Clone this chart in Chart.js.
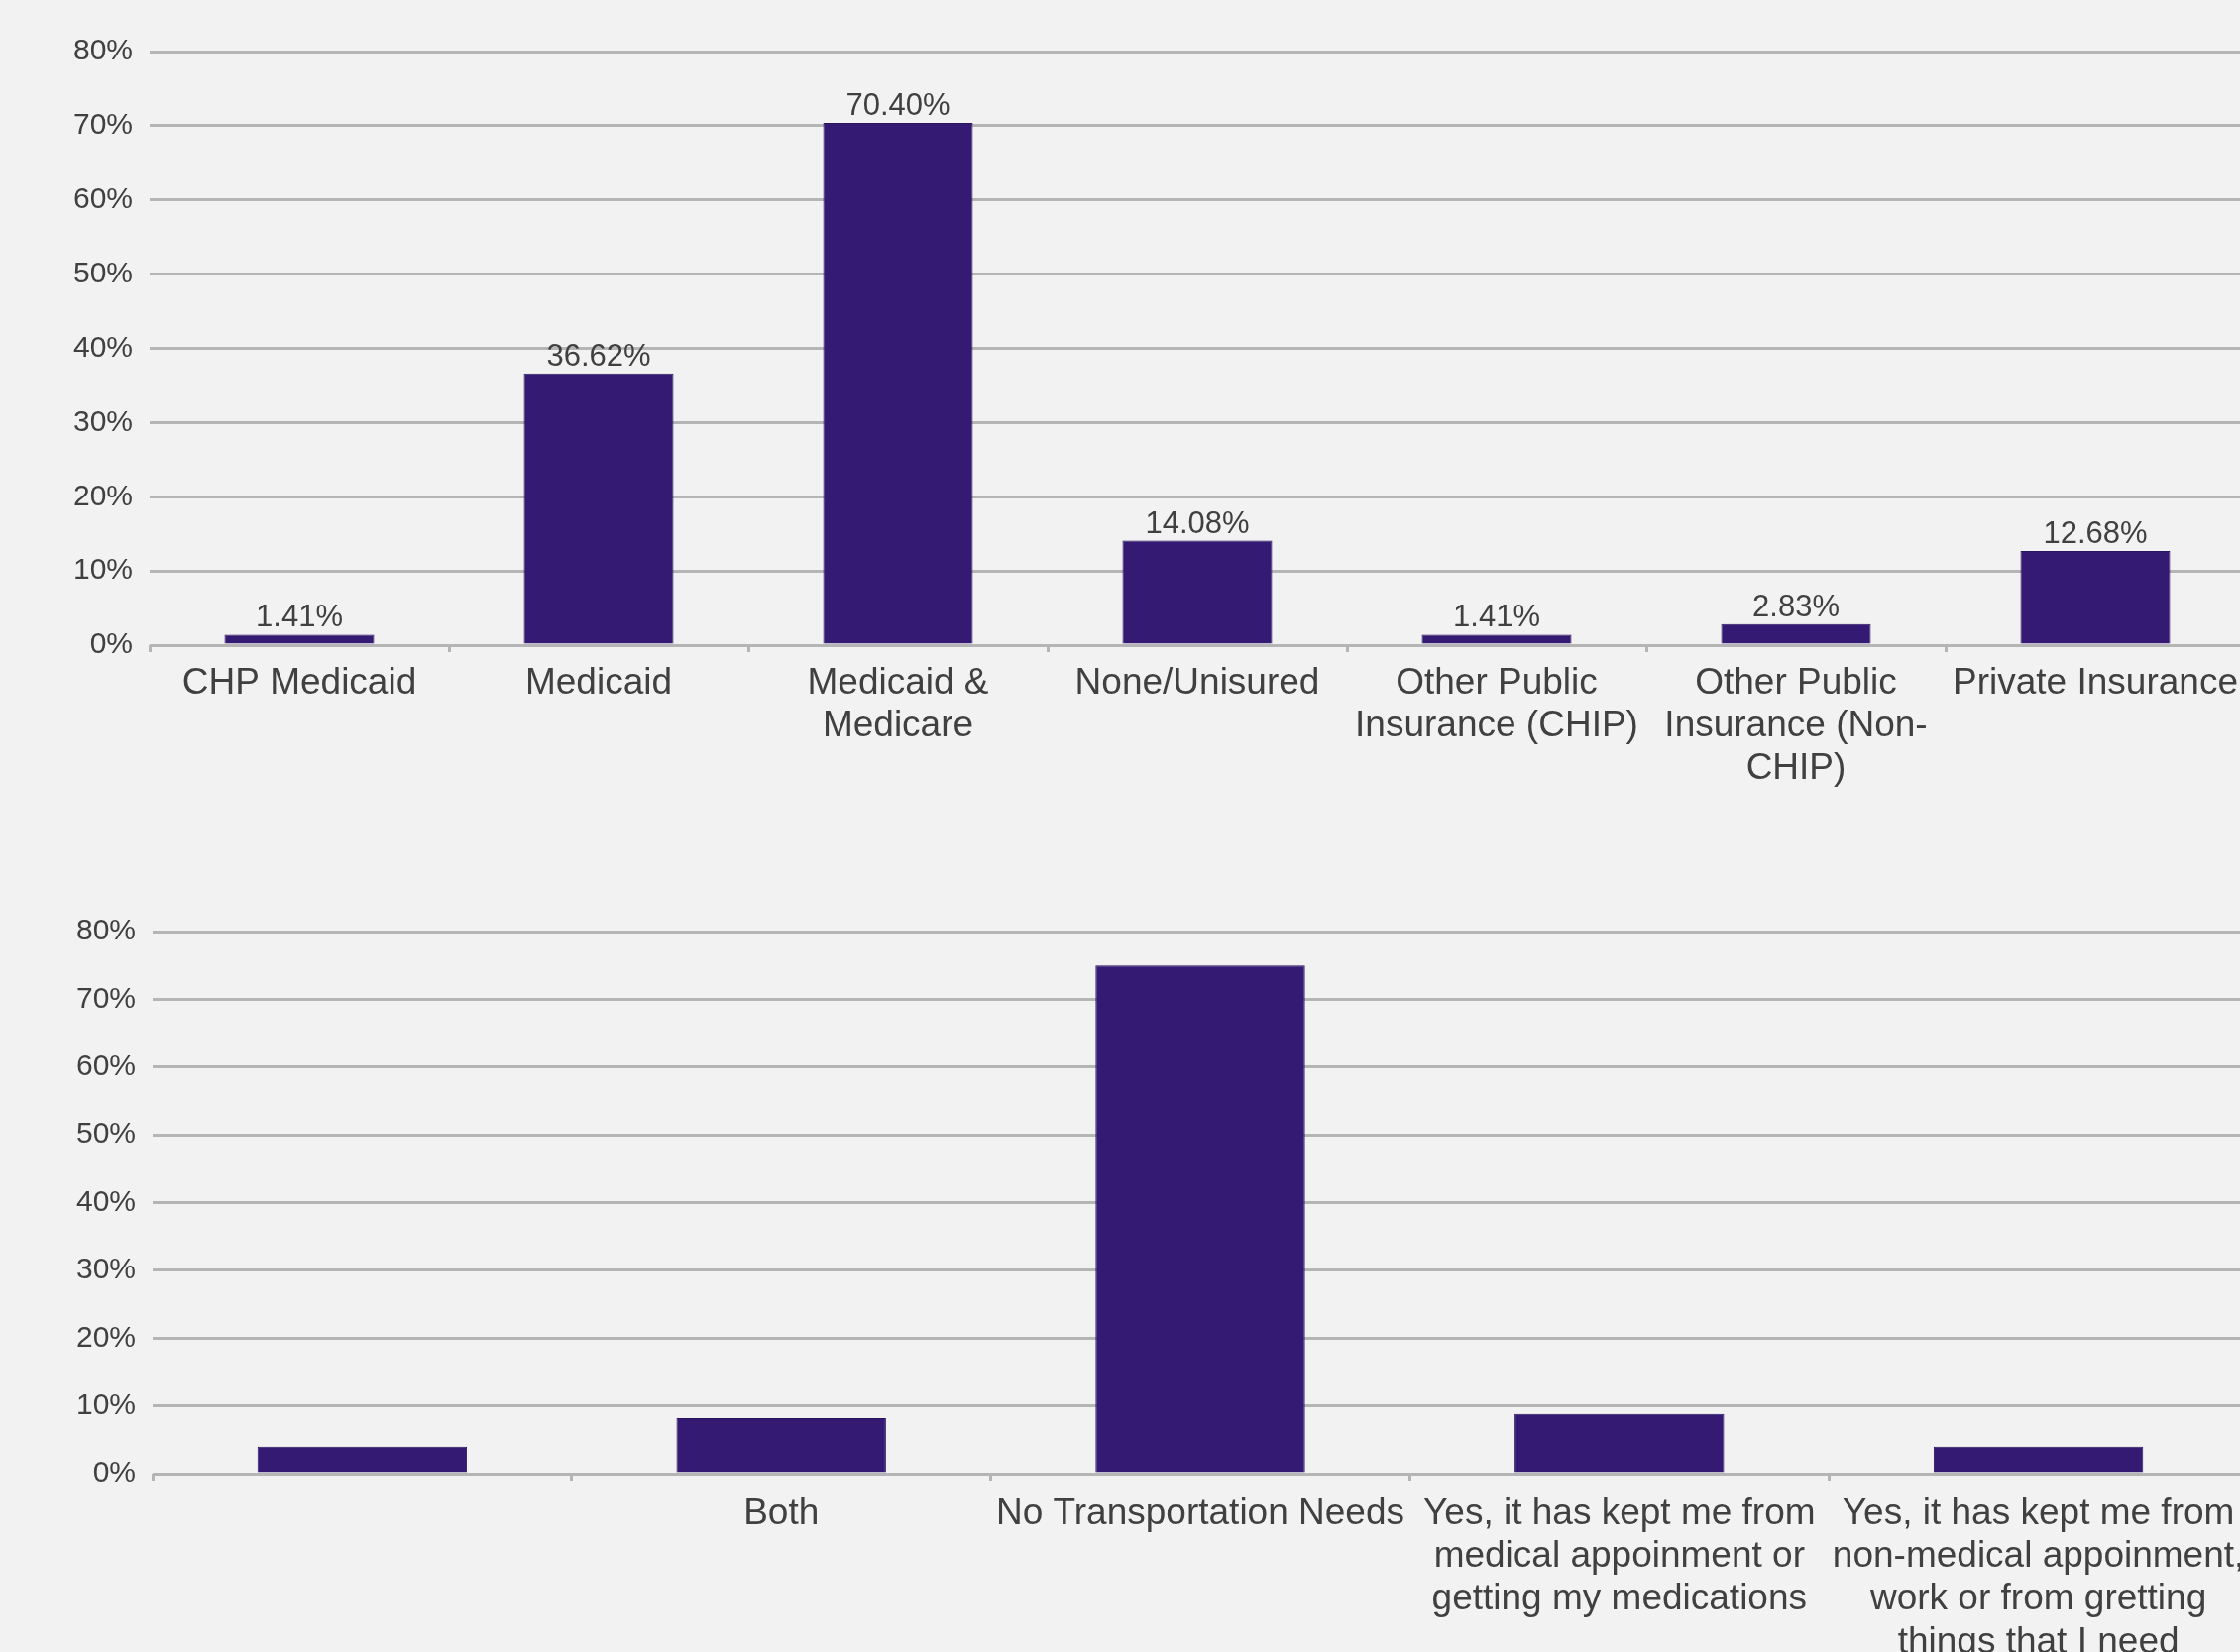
<!DOCTYPE html>
<html>
<head>
<meta charset="utf-8">
<script src="https://cdn.jsdelivr.net/npm/chart.js@4.4.1/dist/chart.umd.min.js"></script>
<style>
  html, body { margin: 0; padding: 0; background: #f2f2f2; overflow: hidden; width: 2260px; height: 1667px; }
  .box { position: absolute; left: 0; }
</style>
</head>
<body>
<div class="box" style="top:0"><canvas id="insurance" width="2265" height="860"></canvas></div>
<div class="box" style="top:860px"><canvas id="transport" width="2268" height="807"></canvas></div>
<script>
const insuranceLabels = [
  'CHP Medicaid',
  'Medicaid',
  ['Medicaid &', 'Medicare'],
  'None/Unisured',
  ['Other Public', 'Insurance (CHIP)'],
  ['Other Public', 'Insurance (Non-', 'CHIP)'],
  'Private Insurance'
];
const insuranceValues = [1.41, 36.62, 70.40, 14.08, 1.41, 2.83, 12.68];

const transportLabels = [
  '',
  'Both',
  'No Transportation Needs',
  ['Yes, it has kept me from', 'medical appoinment or', 'getting my medications'],
  ['Yes, it has kept me from', 'non-medical appoinment,', 'work or from gretting', 'things that I need']
];
const transportValues = [4.0, 8.2, 75.0, 8.8, 4.0];

const yTicks = [0, 10, 20, 30, 40, 50, 60, 70, 80];

const barColor = '#341a72';
const gridColor = '#b5b5b5';
const textColor = '#404040';
const font = 'Liberation Sans, Arial, sans-serif';

// draws the value above each bar
const barValues = {
  id: 'barValues',
  afterDatasetsDraw(chart, args, opts) {
    if (!opts.show) return;
    const ctx = chart.ctx;
    const meta = chart.getDatasetMeta(0);
    ctx.save();
    ctx.font = '31px ' + font;
    ctx.fillStyle = textColor;
    ctx.textAlign = 'center';
    ctx.textBaseline = 'alphabetic';
    meta.data.forEach((bar, i) => {
      const v = chart.data.datasets[0].data[i];
      ctx.fillText(v.toFixed(2) + '%', bar.x, bar.y - 8);
    });
    ctx.restore();
  }
};

function makeChart(id, labels, values, opt) {
  return new Chart(document.getElementById(id), {
    type: 'bar',
    data: {
      labels: labels,
      datasets: [{
        data: values,
        backgroundColor: barColor,
        borderColor: '#2a1560',
        borderWidth: 1,
        barPercentage: 1,
        categoryPercentage: 0.5
      }]
    },
    plugins: [barValues],
    options: {
      responsive: false,
      animation: false,
      layout: { padding: { top: opt.top, left: 0, right: 0, bottom: 0 } },
      plugins: {
        legend: { display: false },
        tooltip: { enabled: false },
        barValues: { show: opt.showValues }
      },
      scales: {
        x: {
          grid: {
            offset: true,
            drawOnChartArea: false,
            drawTicks: true,
            tickLength: 7,
            color: gridColor,
            lineWidth: 3
          },
          border: { display: false },
          ticks: {
            autoSkip: false,
            maxRotation: 0,
            minRotation: 0,
            padding: opt.labelPad,
            color: textColor,
            font: { family: font, size: 37, lineHeight: 1.17 }
          },
          afterFit(scale) {
            scale.height = opt.xHeight;
            scale.paddingLeft = 0;
            scale.paddingRight = 0;
          }
        },
        y: {
          min: 0,
          max: 80,
          afterBuildTicks(scale) { scale.ticks = yTicks.map(v => ({ value: v })); },
          grid: { color: gridColor, lineWidth: 3, drawTicks: false },
          border: { display: false },
          ticks: {
            padding: 17,
            color: textColor,
            font: { family: font, size: 30 },
            callback: v => v + '%'
          },
          afterFit(scale) { scale.width = opt.yWidth; }
        }
      }
    }
  });
}

makeChart('insurance', insuranceLabels, insuranceValues, { top: 52, xHeight: 209, yWidth: 151, labelPad: 10, showValues: true });
makeChart('transport', transportLabels, transportValues, { top: 80, xHeight: 180, yWidth: 154, labelPad: 12, showValues: false });
</script>
</body>
</html>
